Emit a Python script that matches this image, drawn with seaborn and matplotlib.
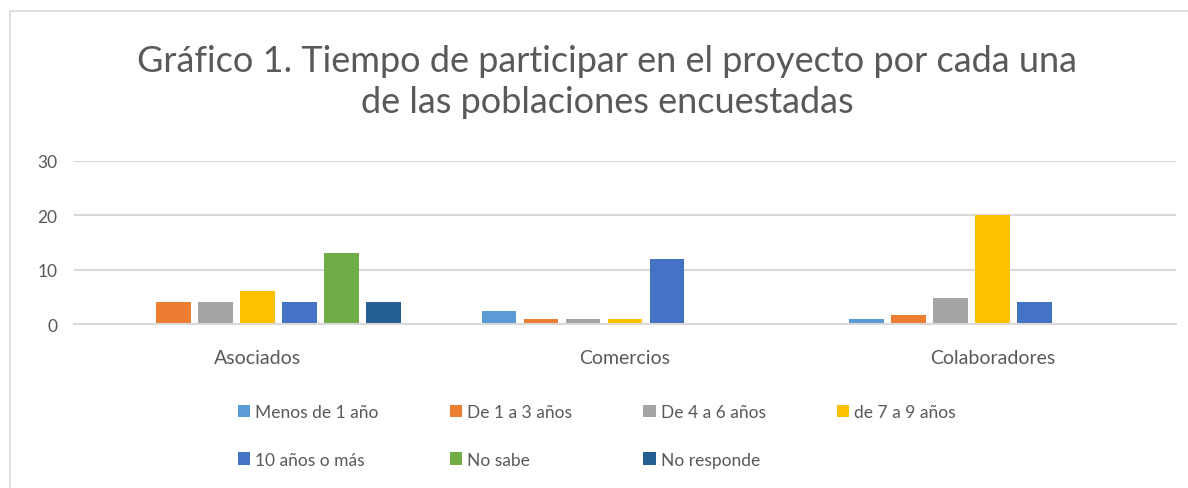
import matplotlib
matplotlib.use("Agg")
import matplotlib.pyplot as plt
import seaborn as sns
import pandas as pd
from matplotlib.lines import Line2D

categories = ["Asociados", "Comercios", "Colaboradores"]
series = ["Menos de 1 año", "De 1 a 3 años", "De 4 a 6 años", "de 7 a 9 años",
          "10 años o más", "No sabe", "No responde"]
menos_1 = [0, 2.4, 1]
de_1_3 = [4, 1, 1.7]
de_4_6 = [4, 1, 4.7]
de_7_9 = [6, 1, 20]
diez_mas = [4, 12, 4]
no_sabe = [13, 0, 0]
no_responde = [4, 0, 0]
yticks = [0, 10, 20, 30]
title = "Gráfico 1. Tiempo de participar en el proyecto por cada una\nde las poblaciones encuestadas"

colors = ["#5B9BD5", "#ED7D31", "#A5A5A5", "#FFC000", "#4472C4", "#70AD47", "#255E91"]

values = [menos_1, de_1_3, de_4_6, de_7_9, diez_mas, no_sabe, no_responde]
rows = []
for s, vals in zip(series, values):
    for c, v in zip(categories, vals):
        rows.append({"Población": c, "Serie": s, "Valor": v})
df = pd.DataFrame(rows)

sns.set_theme(style="white")
plt.rcParams["font.family"] = ["Lato", "DejaVu Sans"]
text_color = "#595959"
grid_color = "#D9D9D9"

fig = plt.figure(figsize=(11.88, 4.89), dpi=100)
ax = fig.add_axes([74 / 1188, 1 - 325 / 489, (1176 - 74) / 1188, (325 - 162) / 489])

sns.barplot(data=df, x="Población", y="Valor", hue="Serie", order=categories,
            hue_order=series, palette=colors, saturation=1, ax=ax, width=0.8, gap=0.18,
            linewidth=0, errorbar=None)

ax.set_ylim(0, 30)
ax.set_yticks(yticks)
ax.set_xlim(-0.5, 2.5)
ax.set_xlabel("")
ax.set_ylabel("")
ax.yaxis.grid(True, color=grid_color, linewidth=1.5)
ax.set_axisbelow(True)
for side in ["top", "right", "left"]:
    ax.spines[side].set_visible(False)
ax.spines["bottom"].set_color(grid_color)
ax.spines["bottom"].set_linewidth(1.5)
ax.tick_params(axis="y", length=0, pad=12, labelsize=12.5, labelcolor=text_color)
ax.tick_params(axis="x", length=0, pad=18, labelsize=14, labelcolor=text_color)

handles, labels = ax.get_legend_handles_labels()
ax.get_legend().remove()
order = [0, 4, 1, 5, 2, 6, 3]
fig.legend([handles[i] for i in order], [labels[i] for i in order], ncol=4, loc="center",
           bbox_to_anchor=(597 / 1188, 1 - 437 / 489),
           frameon=False, fontsize=12.5, labelcolor=text_color, handlelength=0.7,
           handleheight=0.7, handletextpad=0.3, columnspacing=4.1, labelspacing=1.8)

fig.text(607 / 1188, 1 - 82 / 489, title, ha="center", va="center", fontsize=26,
         color=text_color, linespacing=1.3)

# chart frame
fig.add_artist(Line2D([10 / 1188, 10 / 1188], [0, 1 - 12 / 489], transform=fig.transFigure,
                      color=grid_color, linewidth=1.2))
fig.add_artist(Line2D([10 / 1188, 1], [1 - 12 / 489, 1 - 12 / 489], transform=fig.transFigure,
                      color=grid_color, linewidth=1.2))

fig.savefig("out.png", dpi=100, facecolor="white")
